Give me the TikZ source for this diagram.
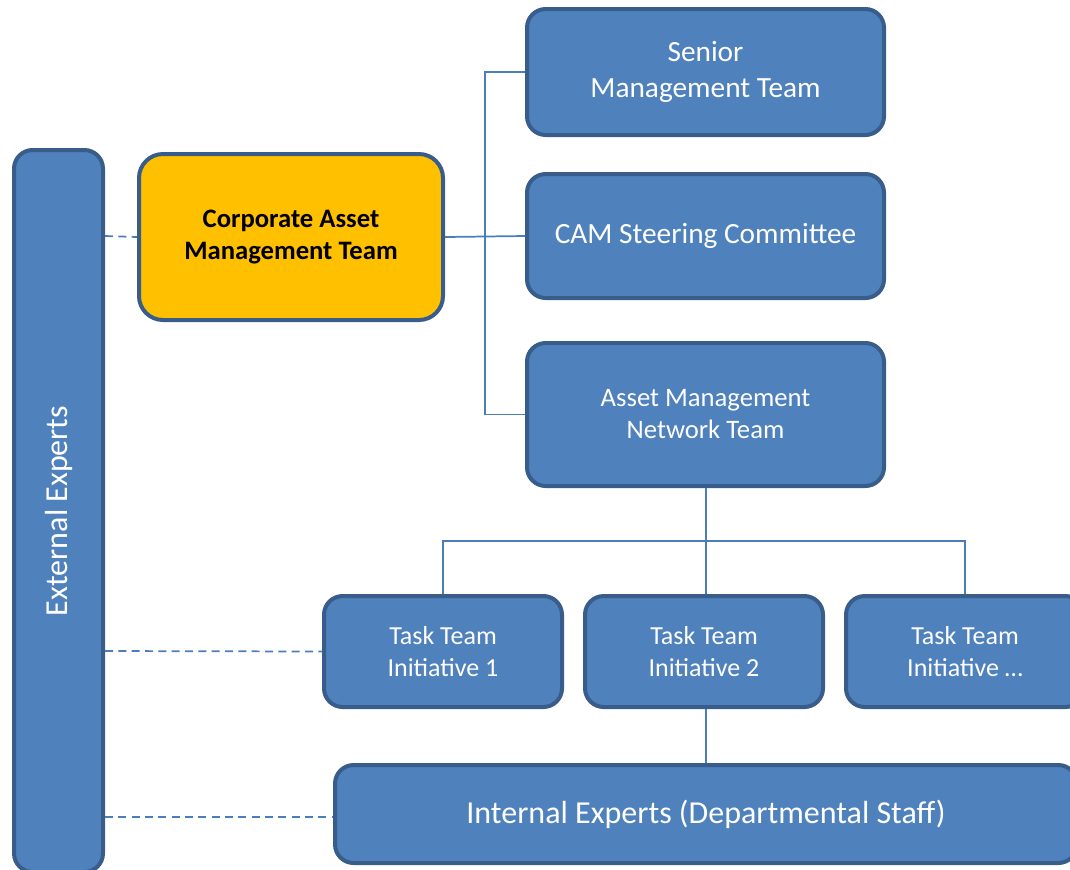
\documentclass[tikz,border=0pt]{standalone}
\usepackage{fontspec}
\setmainfont{Carlito}
\definecolor{boxblue}{HTML}{4F81BD}
\definecolor{edgeblue}{HTML}{385D8A}
\definecolor{linkblue}{HTML}{4A7EBB}
\definecolor{camgold}{HTML}{FFC000}
\tikzstyle{team}=[draw=edgeblue, fill=boxblue, line width=3pt, rounded corners=14pt, text=white, align=center, inner sep=0pt]
\tikzstyle{core}=[team, fill=camgold, text=black, font=\fontsize{20}{24}\selectfont\bfseries, rounded corners=18pt]
\tikzstyle{link} = [draw=linkblue, line width=1.3pt]
\tikzstyle{dashlink} = [draw=linkblue, line width=1.3pt, dash pattern=on 6pt off 4pt]

\begin{document}
\begin{tikzpicture}[x=0.75pt, y=-0.75pt]
    \useasboundingbox (0,0) rectangle (1070,869);

    % dashed links to the external experts (drawn first, behind)
    \coordinate (d1) at (40,236);
    \coordinate (d2) at (40,651);
    \coordinate (d3) at (40,817);

    \node[team, minimum width=89*0.75, minimum height=722*0.75, font=\fontsize{24}{28}\selectfont] (ext) at (58.5,511) {\rotatebox{90}{External Experts}};

    \node[core, minimum width=304*0.75, minimum height=166*0.75] (cam) at (291,237) {Corporate Asset\\Management Team};

    \foreach \pos/\name/\boxh/\fsz/\lsk/\txt in {
                            {(705.5,72)/smt/126/22/27/Senior\\Management Team},
                            {(705.5,236)/csc/124/22/27/CAM Steering Committee},
                            {(705.5,414.5)/amn/143/20/24/Asset Management\\Network Team}}
        \node[team, minimum width=357*0.75, minimum height=\boxh*0.75, font=\fontsize{\fsz}{\lsk}\selectfont] (\name) at \pos {\txt};

    \foreach \pos/\name/\txt in {
                            {(443,651.5)/tt1/Task Team\\Initiative 1},
                            {(704,651.5)/tt2/Task Team\\Initiative 2},
                            {(965,651.5)/ttx/Task Team\\Initiative \dots}}
        \node[team, minimum width=238*0.75, minimum height=111*0.75, font=\fontsize{19.5}{24}\selectfont] (\name) at \pos {\txt};

    \node[team, minimum width=742*0.75, minimum height=98*0.75, font=\fontsize{24}{28}\selectfont] (int) at (706,814) {Internal Experts (Departmental Staff)};

    % reporting lines
    \coordinate (spine) at (485,237);
    \path[link] (cam.east) -- (csc.west);
    \path[link] (smt.west) -| (spine) |- (amn.west);

    \coordinate (bus) at (706,541);
    \path[link] (amn.south -| bus) -- (bus);
    \path[link] (tt1.north) |- (bus) -| (ttx.north);
    \path[link] (bus) -- (tt2.north -| bus);
    \path[link] (tt2.south -| bus) -- (int.north -| bus);

    % dashed links
    \path[dashlink] (ext.east |- d1) -- (cam.west);
    \path[dashlink] (ext.east |- d2) -- (tt1.west);
    \path[dashlink] (ext.east |- d3) -- (int.west |- d3);

\end{tikzpicture}
\end{document}
